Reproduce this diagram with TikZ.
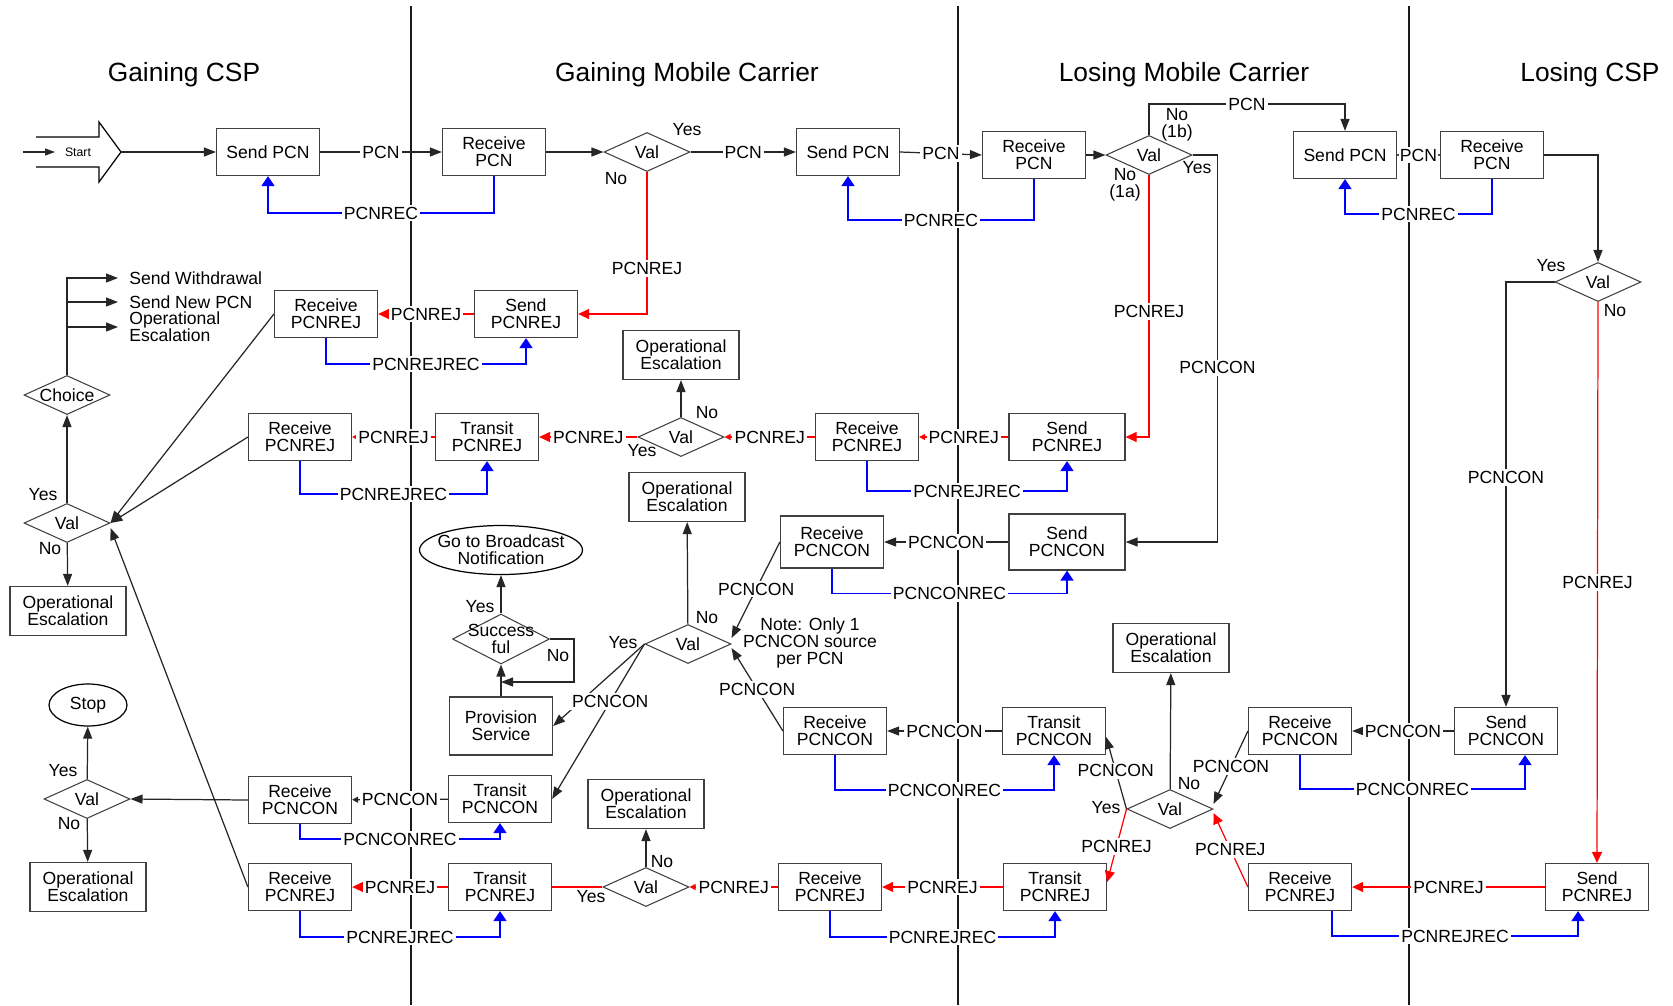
\documentclass[tikz,border=0pt]{standalone}
\usepackage{fontspec}
\setmainfont{Liberation Sans}
\usetikzlibrary{arrows.meta,positioning,shapes.geometric,calc}
\definecolor{recblue}{HTML}{0000FF}
\definecolor{rejred}{HTML}{FF0000}
\definecolor{boxline}{HTML}{404040}
\definecolor{laneline}{HTML}{1A1A1A}

\begin{document}
\begin{tikzpicture}[
    x=0.02cm, y=-0.02cm,
    font=\fontsize{10}{9.6}\selectfont,
    box/.style={
        rectangle, draw=boxline, line width=0.7pt, minimum width=2.06cm, minimum height=0.94cm,
        align=center, inner sep=1pt, fill=white
    },
    escbox/.style={box, minimum width=2.32cm, minimum height=0.98cm},
    decision/.style={
        diamond, draw=boxline, line width=0.6pt, aspect=2.2, inner sep=0pt,
        minimum width=1.72cm, minimum height=0.78cm, align=center
    },
    terminal/.style={ellipse, draw=black, line width=0.7pt, align=center, inner sep=0pt},
    title/.style={font=\fontsize{15}{18}\selectfont},
    lane/.style={line width=1.2pt, draw=laneline},
    msg/.style={fill=white, text=black, inner sep=1.2pt},
    yn/.style={inner sep=0pt, align=center},
    opt/.style={anchor=west, inner xsep=0.22cm, inner ysep=0pt, align=left},
    flow/.style={-{Triangle[length=0.24cm, width=0.18cm]}, line width=0.7pt, color=black!85},
    plain/.style={line width=0.6pt, color=black!70},
    rec/.style={-{Triangle[length=0.2cm, width=0.26cm]}, line width=0.9pt, color=recblue},
    rej/.style={-{Triangle[length=0.22cm, width=0.2cm]}, line width=0.7pt, color=rejred},
    smalltip/.style={-{Triangle[length=0.12cm, width=0.12cm]}}
]
\useasboundingbox (0,0) rectangle (1673,1005);

% Lanes
\draw[lane] (411,6) -- (411,1005);
\draw[lane] (958,6) -- (958,1005);
\draw[lane] (1409,6) -- (1409,1005);

\node[title] (tGC) at (184,75) {Gaining CSP};
\node[title] (tGM) at (687,75) {Gaining Mobile Carrier};
\node[title] (tLM) at (1184,75) {Losing Mobile Carrier};
\node[title] (tLC) at (1590,75) {Losing CSP};

% Start block arrow
\draw[line width=0.7pt] (36,137) -- (99,137) -- (99,122) -- (121,152) -- (99,182) -- (99,167) -- (36,167);
\coordinate (starttip) at (121,152);
\coordinate (startin) at (23,152);
\coordinate (startarr) at (55,152);
\node[font=\fontsize{7}{8}\selectfont] (startlbl) at (78,152) {Start};
\draw[flow, -{Triangle[length=0.2cm, width=0.14cm]}] (startin) -- (startarr);

% Gaining CSP
\node[box] (A1) at (268,152) {Send PCN};
\node[box] (A2) at (326,314) {Receive\\PCNREJ};
\node[box] (A3) at (300,437) {Receive\\PCNREJ};
\node[box] (A5) at (300,800) {Receive\\PCNCON};
\node[box] (A4) at (300,887) {Receive\\PCNREJ};
\node[decision, inner sep=-3pt] (AC) at (67,395) {Choice};
\node[decision] (AV1) at (67,523) {Val};
\node[escbox] (AE1) at (68,611) {Operational\\Escalation};
\node[terminal, minimum width=1.56cm, minimum height=0.84cm] (AS) at (88,705) {Stop};
\node[decision] (AV2) at (87,799) {Val};
\node[escbox] (AE2) at (88,887) {Operational\\Escalation};
\node[opt] (O1) at (118,278) {Send Withdrawal};
\node[opt] (O2) at (118,302) {Send New PCN};
\node[opt] (O3) at (118,327) {Operational\\Escalation};

% Gaining Mobile Carrier
\node[box] (B1) at (494,152) {Receive\\PCN};
\node[decision] (BV1) at (647,152) {Val};
\node[box] (B2) at (848,152) {Send PCN};
\node[box] (B3) at (526,314) {Send\\PCNREJ};
\node[escbox] (BE1) at (681,355) {Operational\\Escalation};
\node[box] (B4) at (487,437) {Transit\\PCNREJ};
\node[decision] (BV2) at (681,437) {Val};
\node[box] (B5) at (867,437) {Receive\\PCNREJ};
\node[escbox] (BE2) at (687,497) {Operational\\Escalation};
\node[box, minimum height=1.04cm] (B6) at (832,542) {Receive\\PCNCON};
\node[terminal, minimum width=3.26cm, minimum height=0.98cm, inner sep=-5pt] (BX) at (501,550) {Go to Broadcast\\Notification};
\node[decision, inner sep=-6pt, minimum width=1.94cm, minimum height=1cm] (BS) at (501,639) {Success\\ful};
\node[box, minimum height=1.16cm] (BP) at (501,726) {Provision\\Service};
\node[decision] (BV3) at (688,644) {Val};
\node[box] (B7) at (835,731) {Receive\\PCNCON};
\node[box] (B10) at (500,799) {Transit\\PCNCON};
\node[escbox] (BE3) at (646,804) {Operational\\Escalation};
\node[box] (B9) at (500,887) {Transit\\PCNREJ};
\node[decision] (BV4) at (646,887) {Val};
\node[box] (B8) at (830,887) {Receive\\PCNREJ};
\node[align=center] (note) at (810,643) {Note: Only 1\\PCNCON source\\per PCN};

% Losing Mobile Carrier
\node[box] (C1) at (1034,155) {Receive\\PCN};
\node[decision] (CV1) at (1149,155) {Val};
\node[box] (C2) at (1345,155) {Send PCN};
\node[box, minimum width=2.32cm] (C3) at (1067,437) {Send\\PCNREJ};
\node[box, minimum width=2.32cm, minimum height=1.12cm] (C4) at (1067,542) {Send\\PCNCON};
\node[escbox] (CE1) at (1171,648) {Operational\\Escalation};
\node[box] (C5) at (1054,731) {Transit\\PCNCON};
\node[decision] (CV2) at (1170,809) {Val};
\node[box] (C6) at (1055,887) {Transit\\PCNREJ};
\node[box] (C7) at (1300,731) {Receive\\PCNCON};
\node[box] (C8) at (1300,887) {Receive\\PCNREJ};

% Losing CSP
\node[box] (D1) at (1492,155) {Receive\\PCN};
\node[decision] (DV1) at (1598,282) {Val};
\node[box] (D3) at (1506,731) {Send\\PCNCON};
\node[box] (D5) at (1597,887) {Send\\PCNREJ};

% Yes / No
\node[yn] (y1) at (687,130) {Yes};
\node[yn] (n1) at (616,179) {No};
\node[yn] (n2) at (1177,125) {No\\(1b)};
\node[yn] (n3) at (1125,185) {No\\(1a)};
\node[yn] (y2) at (1197,168) {Yes};
\node[yn] (y3) at (1551,266) {Yes};
\node[yn] (n4) at (1615,311) {No};
\node[yn] (n5) at (707,413) {No};
\node[yn] (y4) at (642,451) {Yes};
\node[yn] (y5) at (43,495) {Yes};
\node[yn] (n6) at (50,549) {No};
\node[yn] (y6) at (480,607) {Yes};
\node[yn] (n7) at (558,656) {No};
\node[yn] (n8) at (707,618) {No};
\node[yn] (y7) at (623,643) {Yes};
\node[yn] (n9) at (1189,784) {No};
\node[yn] (y8) at (1106,808) {Yes};
\node[yn] (n10) at (662,862) {No};
\node[yn] (y9) at (591,897) {Yes};
\node[yn] (y10) at (63,771) {Yes};
\node[yn] (n11) at (69,824) {No};

% PCN chain (top)
\draw[flow] (starttip) -- (A1.west);
\draw[flow] (A1) -- node[msg] {PCN} (B1);
\draw[rec] (B1.south) -- ++(0,37) -| node[msg, pos=0.25] {PCNREC} (A1.south);
\draw[flow] (B1) -- (BV1);
\draw[flow] (BV1.east) -- node[msg] {PCN} (B2.west);
\draw[flow] (B2.east) -- node[msg] {PCN} (C1.west);
\draw[rec] (C1.south) -- ++(0,41) -| node[msg, pos=0.25] {PCNREC} (B2.south);
\draw[flow] (C1) -- (CV1);
\draw[flow] (CV1.north) -- ++(0,-31) -| node[msg, pos=0.25] {PCN} (C2.north);
\draw[plain] (C2.east) -- node[msg, inner xsep=0.5pt] {PCN} (D1.west);
\draw[rec] (D1.south) -- ++(0,35) -| node[msg, pos=0.25] {PCNREC} (C2.south);
\draw[flow] (D1.east) -| (DV1.north);
\draw[flow] (DV1.west) -| node[msg, pos=0.73] {PCNCON} (D3.north);
\draw[rej] (DV1.south) -- node[msg] {PCNREJ} (D5.north);

% Rejections from the gaining carrier
\draw[rej] (BV1.south) |- node[msg, pos=0.34] {PCNREJ} (B3.east);
\draw[rej] (B3) -- node[msg] {PCNREJ} (A2);
\draw[rec] (A2.south) -- ++(0,26) -| node[msg, pos=0.25] {PCNREJREC} (B3.south);

% Losing carrier answers
\draw[flow] (CV1.east) -- ++(25,0) |- node[msg, pos=0.275] {PCNCON} (C4.east);
\draw[rej] (CV1.south) |- node[msg, pos=0.26] {PCNREJ} (C3.east);
\draw[rej, smalltip] (C3) -- node[msg] {PCNREJ} (B5);
\draw[rec] (B5.south) -- ++(0,30) -| node[msg, pos=0.25] {PCNREJREC} (C3.south);
\draw[rej, smalltip] (B5.west) -- node[msg] {PCNREJ} (BV2.east);
\draw[rej] (BV2.west) -- node[msg] {PCNREJ} (B4.east);
\draw[flow] (BV2) -- (BE1);
\draw[rej, smalltip] (B4) -- node[msg] {PCNREJ} (A3);
\draw[rec] (A3.south) -- ++(0,33) -| node[msg, pos=0.25] {PCNREJREC} (B4.south);

% Gaining CSP decisions
\draw[flow] (A2.west) -- (AV1.east);
\draw[flow] (A3.west) -- (AV1.east);
\draw[flow] (A4.west) -- ([yshift=-0.1cm]AV1.east);
\draw[flow] (AV1) -- (AC);
\draw[flow] (AV1) -- (AE1);
\draw[flow] (AC.north) |- (O1.west);
\draw[flow] (AC.north) |- (O2.west);
\draw[flow] (AC.north) |- (O3.west);

% PCNCON towards the gaining side
\draw[flow] (C4) -- node[msg] {PCNCON} (B6);
\draw[rec] (B6.south) -- ++(0,25) -| node[msg, pos=0.25] {PCNCONREC} (C4.south);
\draw[flow] (B6.west) -- node[msg, pos=0.49] {PCNCON} ([yshift=0.12cm]BV3.east);
\draw[flow] (B7.west) -- node[msg, pos=0.5] {PCNCON} ([yshift=-0.08cm]BV3.east);
\draw[flow] (BV3) -- (BE2);
\draw[flow] (BV3.west) -- (BP.east);
\draw[flow] (BV3.west) -- node[msg, pos=0.37] {PCNCON} (B10.east);
\draw[flow] (BP) -- (BS);
\draw[flow] (BS) -- (BX);
\coordinate (BSloop) at (501,682);
\draw[flow] (BS.east) -- ++(24,0) |- (BSloop);

% Losing carrier transit
\draw[flow] (C5) -- node[msg] {PCNCON} (B7);
\draw[rec] (B7.south) -- ++(0,35) -| node[msg, pos=0.25] {PCNCONREC} (C5.south);
\draw[flow] (CV2) -- (CE1);
\draw[flow] (CV2.west) -- node[msg, pos=0.53] {PCNCON} ([yshift=-0.12cm]C5.east);
\draw[rej] (CV2.west) -- node[msg, pos=0.51] {PCNREJ} ([yshift=0.1cm]C6.east);
\draw[flow] (C7.west) -- node[msg, pos=0.49] {PCNCON} ([yshift=0.1cm]CV2.east);
\draw[rej] (C8.west) -- node[msg, pos=0.51] {PCNREJ} ([yshift=-0.08cm]CV2.east);
\draw[flow] (D3) -- node[msg] {PCNCON} (C7);
\draw[rec] (C7.south) -- ++(0,34) -| node[msg, pos=0.25] {PCNCONREC} ([xshift=0.38cm]D3.south);
\draw[rej] (D5) -- node[msg] {PCNREJ} (C8);
\draw[rec] ([xshift=0.64cm]C8.south) -- ++(0,25) -| node[msg, pos=0.25] {PCNREJREC} ([xshift=-0.38cm]D5.south);

% Rejection chain (bottom)
\draw[rej] (C6) -- node[msg] {PCNREJ} (B8);
\draw[rec] (B8.south) -- ++(0,26) -| node[msg, pos=0.25] {PCNREJREC} (C6.south);
\draw[rej, smalltip] (B8.west) -- node[msg] {PCNREJ} (BV4.east);
\draw[flow] (BV4) -- (BE3);
\draw[rej, -] (BV4.west) -- (B9.east);
\draw[rej] (B9) -- node[msg] {PCNREJ} (A4);
\draw[rec] (A4.south) -- ++(0,26) -| node[msg, pos=0.25] {PCNREJREC} (B9.south);
\draw[flow, smalltip] (B10) -- node[msg] {PCNCON} (A5);
\draw[rec] (A5.south) -- ++(0,15) -| node[msg, pos=0.25] {PCNCONREC} (B10.south);
\draw[flow] (A5.west) -- (AV2.east);
\draw[flow] (AV2) -- (AS);
\draw[flow] (AV2) -- (AE2);

\end{tikzpicture}
\end{document}
